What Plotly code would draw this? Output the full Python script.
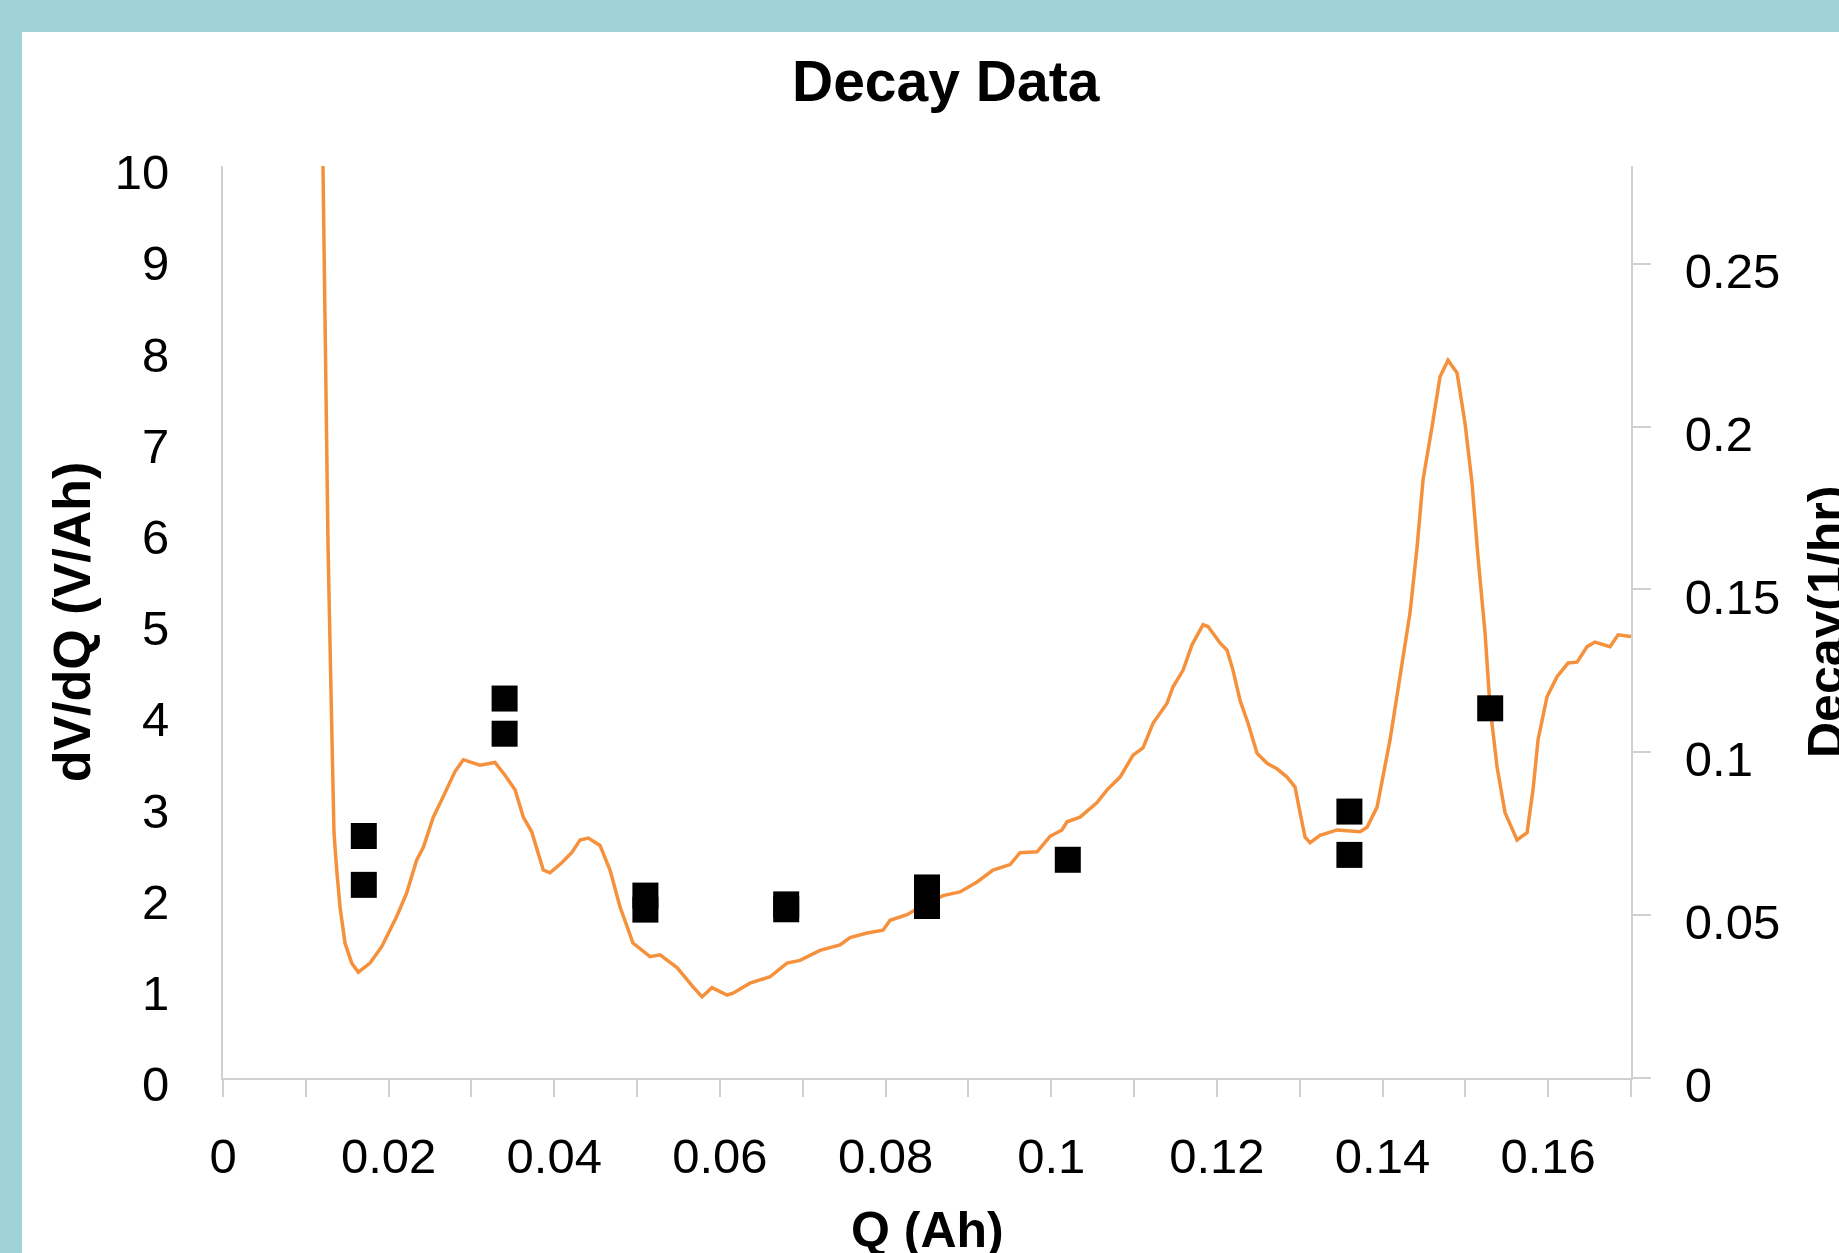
import plotly.graph_objects as go

# dV/dQ curve (left axis)
q_line = [0.01207, 0.01232, 0.01268, 0.01312, 0.01340, 0.01373, 0.01413, 0.01473, 0.01554, 0.01634,
          0.01775, 0.01916, 0.02097, 0.02218, 0.02339, 0.02419, 0.02539, 0.02641, 0.02801, 0.02902,
          0.03103, 0.03284, 0.03405, 0.03526, 0.03626, 0.03727, 0.03867, 0.03948, 0.04090, 0.04210,
          0.04311, 0.04411, 0.04552, 0.04673, 0.04794, 0.04950, 0.05156, 0.05277, 0.05482, 0.05675,
          0.05784, 0.05904, 0.06086, 0.06158, 0.06363, 0.06605, 0.06810, 0.06967, 0.07208, 0.07450,
          0.07571, 0.07776, 0.07969, 0.08054, 0.08259, 0.08416, 0.08693, 0.08899, 0.09104, 0.09297,
          0.09503, 0.09623, 0.09829, 0.09986, 0.10130, 0.10191, 0.10348, 0.10553, 0.10674, 0.10831,
          0.10988, 0.11108, 0.11229, 0.11398, 0.11471, 0.11591, 0.11700, 0.11833, 0.11893, 0.12038,
          0.12123, 0.12195, 0.12280, 0.12376, 0.12485, 0.12606, 0.12726, 0.12847, 0.12944, 0.13004,
          0.13065, 0.13125, 0.13246, 0.13451, 0.13729, 0.13813, 0.13934, 0.14091, 0.14212, 0.14332,
          0.14417, 0.14489, 0.14598, 0.14694, 0.14791, 0.14900, 0.14996, 0.15081, 0.15153, 0.15238,
          0.15298, 0.15383, 0.15479, 0.15624, 0.15745, 0.15817, 0.15878, 0.15986, 0.16107, 0.16240,
          0.16349, 0.16470, 0.16566, 0.16747, 0.16844, 0.17000]
dvdq_line = [10.0, 8.37, 5.84, 3.89, 2.69, 2.28, 1.875, 1.48, 1.26, 1.16,
             1.26, 1.44, 1.77, 2.03, 2.39, 2.53, 2.86, 3.05, 3.36, 3.49,
             3.43, 3.46, 3.32, 3.16, 2.86, 2.70, 2.28, 2.25, 2.36, 2.47,
             2.61, 2.63, 2.55, 2.28, 1.875, 1.48, 1.33, 1.35, 1.21, 1.00,
             0.89, 0.99, 0.91, 0.93, 1.04, 1.11, 1.26, 1.29, 1.40, 1.46,
             1.54, 1.59, 1.62, 1.73, 1.79, 1.875, 2.00, 2.04, 2.15, 2.28,
             2.34, 2.47, 2.48, 2.65, 2.72, 2.81, 2.86, 3.02, 3.16, 3.30,
             3.54, 3.62, 3.89, 4.11, 4.29, 4.47, 4.75, 4.97, 4.95, 4.77,
             4.69, 4.47, 4.14, 3.89, 3.56, 3.45, 3.39, 3.30, 3.19, 2.91,
             2.64, 2.58, 2.66, 2.72, 2.70, 2.75, 2.97, 3.71, 4.44, 5.10,
             5.82, 6.56, 7.14, 7.69, 7.87, 7.73, 7.18, 6.52, 5.71, 4.88,
             4.07, 3.41, 2.91, 2.61, 2.69, 3.16, 3.71, 4.18, 4.40, 4.55,
             4.56, 4.73, 4.78, 4.73, 4.86, 4.84]

# Decay points (right axis)
q_decay = [0.017, 0.017, 0.034, 0.034, 0.051, 0.051, 0.068, 0.068, 0.085, 0.085,
           0.102, 0.136, 0.136, 0.153]
decay = [0.0743, 0.0593, 0.1165, 0.1057, 0.0560, 0.0517, 0.0533, 0.0518, 0.0585, 0.0528,
         0.0670, 0.0818, 0.0685, 0.1135]

# tick values
left_ticks = list(range(0, 11))
right_ticks = [0, 0.05, 0.1, 0.15, 0.2, 0.25]

FONT = "Liberation Sans"
AXIS_GRAY = "#D0D0D0"
TEAL = "#9FD3D6"

fig = go.Figure()
fig.add_trace(go.Scatter(x=q_line, y=dvdq_line, mode="lines",
                         line=dict(color="#F5913C", width=3.5), yaxis="y", showlegend=False))
fig.add_trace(go.Scatter(x=q_decay, y=decay, mode="markers",
                         marker=dict(symbol="square", size=26, color="black"),
                         yaxis="y2", showlegend=False))

fig.update_layout(
    width=1839, height=1253,
    template="none",
    paper_bgcolor="white", plot_bgcolor="white",
    margin=dict(l=223, r=208, t=166, b=175, autoexpand=False),
    showlegend=False,
    font=dict(family=FONT, color="black"),
    xaxis=dict(range=[0, 0.17], dtick=0.02, tick0=0, showgrid=False, zeroline=False,
               showline=True, linecolor=AXIS_GRAY, linewidth=2,
               ticks="outside", ticklen=17, tickcolor=AXIS_GRAY, tickwidth=2,
               minor=dict(dtick=0.01, ticks="outside", ticklen=17, tickcolor=AXIS_GRAY, tickwidth=2, showgrid=False),
               tickfont=dict(family=FONT, size=49, color="black"),
               ticklabelstandoff=17, automargin=False, fixedrange=True),
    yaxis=dict(range=[0, 10], tickvals=left_ticks, showgrid=False, zeroline=False,
               showline=True, linecolor=AXIS_GRAY, linewidth=2, ticks="",
               tickfont=dict(family=FONT, size=49, color="black"),
               ticklabelstandoff=42, ticklabelshift=6, automargin=False),
    yaxis2=dict(range=[0, 0.28], tickvals=right_ticks, overlaying="y", side="right",
                showgrid=False, zeroline=False, showline=True, linecolor=AXIS_GRAY, linewidth=2,
                ticks="outside", ticklen=18, tickcolor=AXIS_GRAY, tickwidth=2,
                tickfont=dict(family=FONT, size=49, color="black"),
                ticklabelstandoff=24, ticklabelshift=7, automargin=False),
)

# teal frame strips
fig.add_shape(type="rect", xref="paper", yref="paper", x0=-0.17, x1=-0.14276, y0=-0.25, y1=1.25,
              fillcolor=TEAL, line=dict(width=0), layer="above")
fig.add_shape(type="rect", xref="paper", yref="paper", x0=-0.17, x1=1.2, y0=1.14693, y1=1.25,
              fillcolor=TEAL, line=dict(width=0), layer="above")

# titles
fig.add_annotation(text="<b>Decay Data</b>", xref="paper", yref="paper", x=0.5135, y=1.0932,
                   xanchor="center", yanchor="middle", showarrow=False,
                   font=dict(family=FONT, size=57, color="black"))
fig.add_annotation(text="<b>Q (Ah)</b>", xref="paper", yref="paper", x=0.5, y=-0.1667,
                   xanchor="center", yanchor="middle", showarrow=False,
                   font=dict(family=FONT, size=50, color="black"))
fig.add_annotation(text="<b>dV/dQ (V/Ah)</b>", xref="paper", yref="paper", x=-0.1070, y=0.5,
                   xanchor="center", yanchor="middle", showarrow=False, textangle=-90,
                   font=dict(family=FONT, size=52, color="black"))
fig.add_annotation(text="<b>Decay(1/hr)</b>", xref="paper", yref="paper", x=1.1385, y=0.5,
                   xanchor="center", yanchor="middle", showarrow=False, textangle=-90,
                   font=dict(family=FONT, size=50, color="black"))

fig.write_html("out.html")
